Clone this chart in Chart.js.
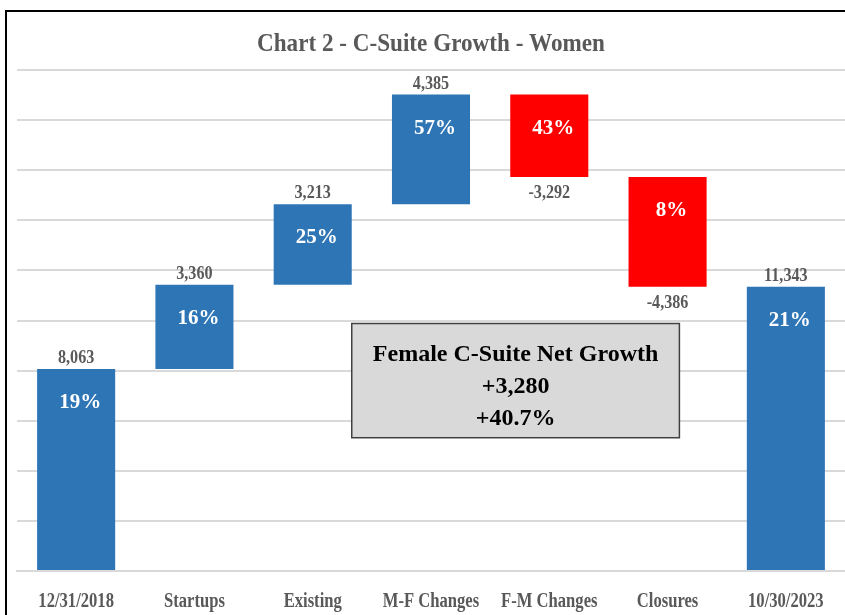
<!DOCTYPE html>
<html>
<head>
<meta charset="utf-8">
<script src="https://cdn.jsdelivr.net/npm/chart.js@4.4.1/dist/chart.umd.min.js"></script>
<style>
  html, body { margin: 0; padding: 0; background: #fff; }
  #wrap { width: 845px; height: 615px; position: relative; }
</style>
</head>
<body>
<div id="wrap"><canvas id="chart"></canvas></div>
<script>
// ===== Datos =====
const categories = ['12/31/2018', 'Startups', 'Existing', 'M-F Changes', 'F-M Changes', 'Closures', '10/30/2023'];
const changes = [8063, 3360, 3213, 4385, -3292, -4386, 11343];
const isTotal = [true, false, false, false, false, false, true];
const shareLabels = ['19%', '16%', '25%', '57%', '43%', '8%', '21%'];
const yTicks = [0, 2000, 4000, 6000, 8000, 10000, 12000, 14000, 16000, 18000, 20000];
const boxLines = ['Female C-Suite Net Growth', '+3,280', '+40.7%'];

const BLUE = '#2E75B6';
const RED = '#FF0000';
const GREY_TXT = '#595959';
const SERIF = '"Liberation Serif", "Times New Roman", serif';

// rangos flotantes de la cascada
const ranges = [];
let run = 0;
changes.forEach((v, i) => {
  if (isTotal[i]) { ranges.push([0, v]); run = v; }
  else { ranges.push([run, run + v]); run += v; }
});
const colors = changes.map(v => v < 0 ? RED : BLUE);
const fmt = (v) => v.toLocaleString('en-US');

// texto "condensado" (la fuente original es estrecha)
function narrowText(c, txt, x, y, sx){
  c.save();
  c.translate(x, y);
  c.scale(sx, 1);
  c.fillText(txt, 0, 0);
  c.restore();
}

// ===== Plugins =====
const frame = {
  id: 'frame',
  beforeDraw(chart){
    const c = chart.ctx;
    c.save();
    c.fillStyle = '#fff';
    c.fillRect(0, 0, chart.width, chart.height);
    c.strokeStyle = '#000';
    c.lineWidth = 2;
    c.beginPath();
    c.moveTo(6, chart.height);
    c.lineTo(6, 11);
    c.lineTo(chart.width, 11);
    c.stroke();
    // titulo
    c.fillStyle = GREY_TXT;
    c.font = 'bold 26px ' + SERIF;
    c.textAlign = 'center';
    c.textBaseline = 'alphabetic';
    narrowText(c, 'Chart 2 - C-Suite Growth - Women', 431, 51, 0.89);
    c.restore();
  }
};

const labels = {
  id: 'labels',
  afterDatasetsDraw(chart){
    const c = chart.ctx;
    const meta = chart.getDatasetMeta(0);
    const x = chart.scales.x, y = chart.scales.y;
    c.save();
    c.textAlign = 'center';
    c.textBaseline = 'alphabetic';
    meta.data.forEach((bar, i) => {
      const [a, b] = ranges[i];
      const top = y.getPixelForValue(Math.max(a, b));
      const bottom = y.getPixelForValue(Math.min(a, b));
      // valor
      c.fillStyle = GREY_TXT;
      c.font = 'bold 19px ' + SERIF;
      if (changes[i] >= 0) narrowText(c, fmt(changes[i]), bar.x, top - 6, 0.85);
      else narrowText(c, fmt(changes[i]), bar.x, bottom + 21, 0.85);
      // porcentaje
      c.fillStyle = '#fff';
      c.font = 'bold 21px ' + SERIF;
      c.fillText(shareLabels[i], bar.x + 4, top + 39);
      // etiqueta de categoria
      c.fillStyle = GREY_TXT;
      c.font = 'bold 20px ' + SERIF;
      narrowText(c, categories[i], x.getPixelForValue(i), 607, 0.83);
    });

    // caja resumen
    const bx1 = x.getPixelForValue(2.33), bx2 = x.getPixelForValue(5.1);
    const by1 = y.getPixelForValue(9880), by2 = y.getPixelForValue(5320);
    c.fillStyle = '#D9D9D9';
    c.fillRect(bx1, by1, bx2 - bx1, by2 - by1);
    c.strokeStyle = '#404040';
    c.lineWidth = 1.5;
    c.strokeRect(bx1, by1, bx2 - bx1, by2 - by1);
    c.fillStyle = '#000';
    c.font = 'bold 24px ' + SERIF;
    const cx = (bx1 + bx2) / 2;
    boxLines.forEach((t, k) => c.fillText(t, cx, by1 + 37 + k * 32));
    c.restore();
  }
};

// ===== Grafico =====
new Chart(document.getElementById('chart'), {
  type: 'bar',
  data: {
    labels: categories,
    datasets: [{
      data: ranges,
      backgroundColor: colors,
      borderWidth: 0,
      categoryPercentage: 1,
      barPercentage: 0.66
    }]
  },
  options: {
    responsive: true,
    maintainAspectRatio: false,
    animation: false,
    layout: { padding: { left: 17, top: 70, right: 0, bottom: 36 } },
    plugins: { legend: { display: false }, tooltip: { enabled: false } },
    scales: {
      x: {
        grid: { display: false },
        border: { display: true, color: '#D9D9D9', width: 2 },
        ticks: { display: false }
      },
      y: {
        min: 0, max: 20000,
        afterBuildTicks: (s) => { s.ticks = yTicks.map(v => ({ value: v })); },
        ticks: { display: false },
        border: { display: false },
        grid: { color: '#D9D9D9', lineWidth: 2, drawTicks: false }
      }
    }
  },
  plugins: [frame, labels]
});
</script>
</body>
</html>
